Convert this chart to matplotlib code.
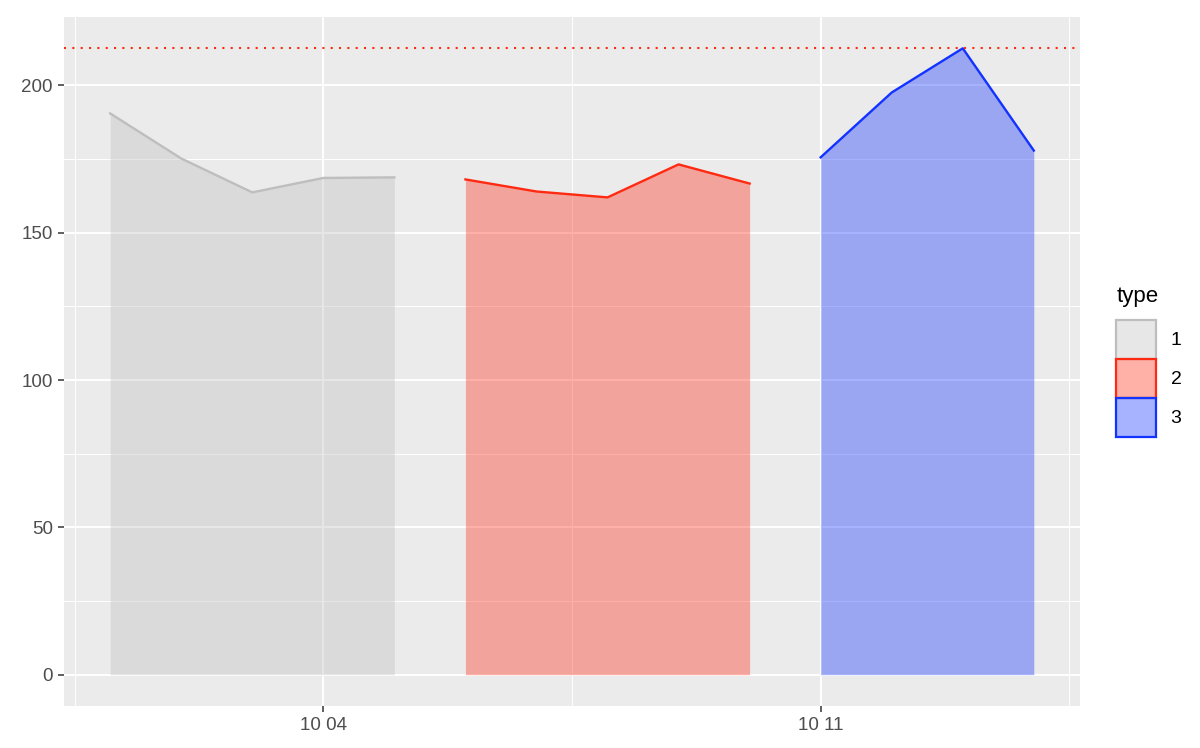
import datetime as dt

import matplotlib
matplotlib.use("Agg")
import matplotlib.dates as mdates
import matplotlib.pyplot as plt
from matplotlib.colors import to_rgba
from matplotlib.patches import Patch
from matplotlib.ticker import FixedLocator, MultipleLocator

plt.rcParams["font.family"] = ["Liberation Sans", "DejaVu Sans"]

# data
dates_1 = ["2020-10-01", "2020-10-02", "2020-10-03", "2020-10-04", "2020-10-05"]
values_1 = [190.5, 175.2, 163.7, 168.6, 168.8]
dates_2 = ["2020-10-06", "2020-10-07", "2020-10-08", "2020-10-09", "2020-10-10"]
values_2 = [168.1, 164.0, 162.0, 173.2, 166.7]
dates_3 = ["2020-10-11", "2020-10-12", "2020-10-13", "2020-10-14"]
values_3 = [175.6, 197.6, 212.6, 177.9]
types = ["1", "2", "3"]
line_colors = ["#bebebe", "#ff2a12", "#1232ff"]
fill_alpha = 0.37

series = [(dates_1, values_1), (dates_2, values_2), (dates_3, values_3)]

fig = plt.figure(figsize=(12, 7.48), dpi=100)
ax = fig.add_axes([64 / 1200, 1 - 706 / 748, (1080 - 64) / 1200, (706 - 17) / 748])
ax.set_facecolor("#ebebeb")
for s in ax.spines.values():
    s.set_visible(False)

all_x = []
all_y = []
for (ds, vs), col in zip(series, line_colors):
    xs = [dt.datetime.strptime(d, "%Y-%m-%d") for d in ds]
    all_x += xs
    all_y += vs
    ax.fill_between(xs, 0, vs, color=col, alpha=fill_alpha, linewidth=0, zorder=3)
    ax.plot(xs, vs, color=col, lw=1.7, zorder=4)

ymax = max(all_y)
ax.axhline(ymax, color="#ff2a12", ls=(0, (1, 3)), lw=1.5, zorder=5)

# ggplot-like expansion
xn = mdates.date2num(all_x)
span = max(xn) - min(xn)
ax.set_xlim(min(xn) - 0.05 * span, max(xn) + 0.05 * span)
ax.set_ylim(-0.05 * ymax, 1.05 * ymax)

ax.xaxis.set_major_locator(mdates.WeekdayLocator(byweekday=mdates.SU))
ax.xaxis.set_major_formatter(mdates.DateFormatter("%m %d"))
major = ax.get_xticks()
ax.xaxis.set_minor_locator(FixedLocator([m + 3.5 for m in major] + [major[0] - 3.5]))
ax.yaxis.set_major_locator(MultipleLocator(50))
ax.yaxis.set_minor_locator(MultipleLocator(25))

ax.grid(which="major", color="white", lw=1.4, zorder=0)
ax.grid(which="minor", color="white", lw=0.7, zorder=0)
ax.set_axisbelow(True)
ax.tick_params(which="major", length=4, width=1.1, color="#333333",
               labelcolor="#4d4d4d", labelsize=13.5, pad=4)
ax.tick_params(which="minor", length=0)

# legend: title as separate text so the gap to the keys matches ggplot
fig.text(1117 / 1200, 1 - 297 / 748, "type", fontsize=16, ha="left", va="center")
handles = [Patch(facecolor=to_rgba(c, fill_alpha), edgecolor=c, lw=1.6) for c in line_colors]
fig.legend(handles, types, loc="upper left",
           bbox_to_anchor=(1116 / 1200, 1 - 320 / 748), frameon=False,
           fontsize=14, handlelength=2.06, handleheight=2.71,
           labelspacing=0.0, handletextpad=0.75,
           borderpad=0, borderaxespad=0)

fig.savefig("out.png", dpi=100)
